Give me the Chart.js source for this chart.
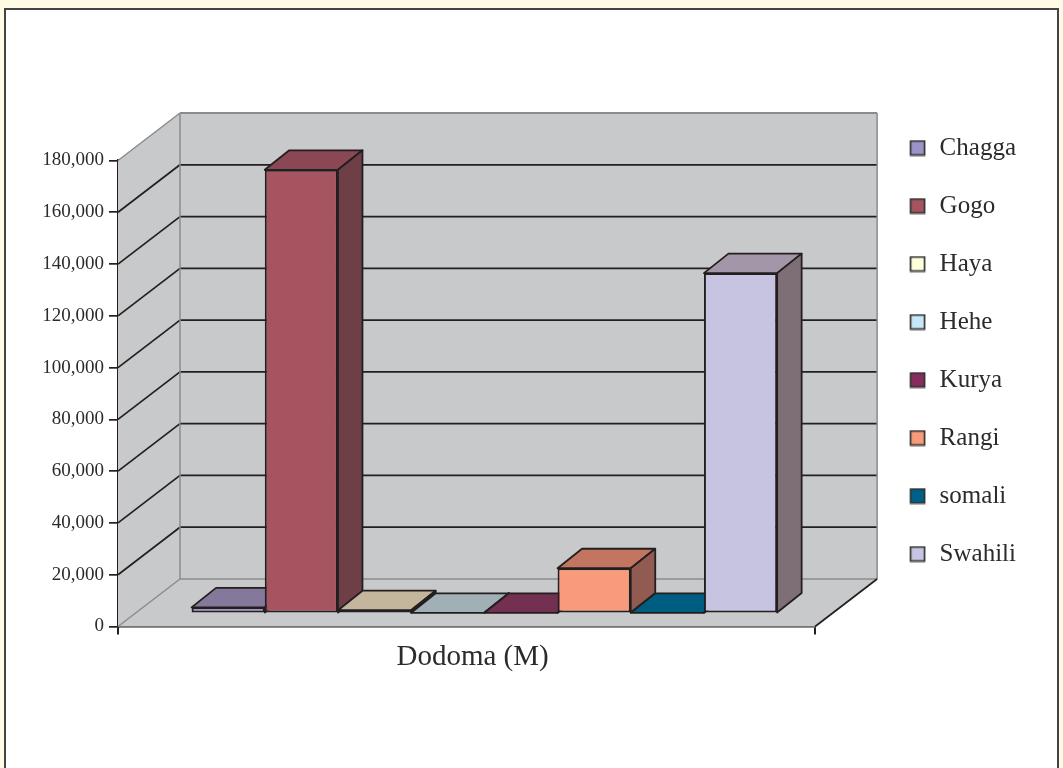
<!DOCTYPE html>
<html>
<head>
<meta charset="utf-8">
<title>Dodoma (M)</title>
<script src="https://cdn.jsdelivr.net/npm/chart.js@4"></script>
<style>
  html, body { margin: 0; padding: 0; background: #fffbe5; }
  body { width: 1063px; height: 768px; overflow: hidden; position: relative; }
  #frame { position: absolute; left: 4px; top: 8px; width: 1051px; height: 780px; background: #fff; border: 2px solid #444; }
  #chart { position: absolute; left: 0; top: 0; }
</style>
</head>
<body>
<div id="frame"></div>
<canvas id="chart" width="1063" height="768"></canvas>
<script>
const categories = ['Dodoma (M)'];
const groups = ['Chagga', 'Gogo', 'Haya', 'Hehe', 'Kurya', 'Rangi', 'somali', 'Swahili'];
const population = [2300, 171300, 1200, 150, 150, 17400, 150, 131400];
const yMax = 180000;
const yStep = 20000;

// face colours per bar
const frontColors = ['#9d93c9', '#a55460', '#ffffdb', '#c5e7f8', '#862d5e', '#f89b7b', '#006088', '#c6c4e0'];
const topColors = ['#85789a', '#8b4753', '#c4b69c', '#a0b0b5', '#733051', '#c27662', '#005d82', '#a396a9'];
const sideColors = ['#65597a', '#6f3f47', '#a89a80', '#83939a', '#5a2440', '#925b52', '#00486a', '#7e6f77'];

const LINE = '#231f20';
const WALL = '#c8c9cb';
const EDGE = '#8a8b8d';
const TEXT = '#2b2b2b';
const FONT = '"Liberation Serif", serif';

// 3d offsets: whole box depth, and where the bars stand inside it
const boxDx = 62, boxDy = -47.5;
const barShiftX = 17.8, barShiftY = -13.2;
const barDx = 24.5, barDy = -19.5;

function poly(ctx, pts, fill, stroke, lw) {
    ctx.beginPath();
    pts.forEach((p, i) => i ? ctx.lineTo(p[0], p[1]) : ctx.moveTo(p[0], p[1]));
    ctx.closePath();
    if (fill) { ctx.fillStyle = fill; ctx.fill(); }
    if (stroke) { ctx.strokeStyle = stroke; ctx.lineWidth = lw; ctx.stroke(); }
}

function line(ctx, x1, y1, x2, y2, color, lw) {
    ctx.beginPath();
    ctx.moveTo(x1, y1);
    ctx.lineTo(x2, y2);
    ctx.strokeStyle = color;
    ctx.lineWidth = lw;
    ctx.stroke();
}

const depthPlugin = {
    id: 'depth',
    beforeDatasetsDraw(chart) {
        const ctx = chart.ctx;
        const { left, right, top, bottom } = chart.chartArea;
        const backX = left + boxDx;

        // walls and floor
        poly(ctx, [[backX, top + boxDy], [right + boxDx, top + boxDy], [right + boxDx, bottom + boxDy], [backX, bottom + boxDy]], WALL);
        poly(ctx, [[left, top], [backX, top + boxDy], [backX, bottom + boxDy], [left, bottom]], WALL);
        poly(ctx, [[left, bottom], [right, bottom], [right + boxDx, bottom + boxDy], [backX, bottom + boxDy]], WALL);

        // gridlines
        chart.scales.y.ticks.forEach(t => {
            const y = chart.scales.y.getPixelForValue(t.value);
            if (t.value === 0 || t.value === yMax) return;
            line(ctx, left, y, backX, y + boxDy, LINE, 1.7);
            line(ctx, backX, y + boxDy, right + boxDx, y + boxDy, LINE, 1.7);
        });

        // grey edges of the box
        line(ctx, left, top, backX, top + boxDy, EDGE, 1.5);
        line(ctx, backX, top + boxDy, right + boxDx, top + boxDy, EDGE, 2);
        line(ctx, right + boxDx, top + boxDy, right + boxDx, bottom + boxDy, EDGE, 1.5);
        line(ctx, backX, top + boxDy, backX, bottom + boxDy, EDGE, 1.5);
        line(ctx, left, bottom, backX, bottom + boxDy, EDGE, 1.5);
        line(ctx, backX, bottom + boxDy, right + boxDx, bottom + boxDy, EDGE, 1.5);
        line(ctx, right, bottom, right + boxDx, bottom + boxDy, LINE, 1.7);

        // tops and sides of the bars, left to right
        ctx.save();
        ctx.translate(barShiftX, barShiftY);
        ctx.lineJoin = 'round';
        groups.forEach((g, i) => {
            const bar = chart.getDatasetMeta(i).data[0];
            const p = bar.getProps(['x', 'y', 'base', 'width']);
            const l = p.x - p.width / 2, r = p.x + p.width / 2;
            poly(ctx, [[l, p.y], [r, p.y], [r + barDx, p.y + barDy], [l + barDx, p.y + barDy]], topColors[i], LINE, 1.8);
            poly(ctx, [[r, p.y], [r + barDx, p.y + barDy], [r + barDx, p.base + barDy], [r, p.base]], sideColors[i], LINE, 1.8);
        });
        // fronts are drawn by the library in the same shifted space
    },
    afterDatasetsDraw(chart) {
        chart.ctx.restore();
    }
};

// legend swatch, small canvas so it sits away from the text like the reference
function swatch(color) {
    const c = document.createElement('canvas');
    c.width = 17;
    c.height = 17;
    const g = c.getContext('2d');
    g.fillStyle = color;
    g.fillRect(1.5, 1.5, 14, 14);
    g.strokeStyle = '#333';
    g.lineWidth = 1.7;
    g.strokeRect(1.5, 1.5, 14, 14);
    return c;
}

new Chart(document.getElementById('chart'), {
    type: 'bar',
    data: {
        labels: categories,
        datasets: groups.map((g, i) => ({
            label: g,
            data: [population[i]],
            backgroundColor: frontColors[i],
            borderColor: LINE,
            borderWidth: 2,
            borderSkipped: false,
            clip: false
        }))
    },
    plugins: [depthPlugin],
    options: {
        responsive: false,
        animation: false,
        layout: { padding: { top: 102.5, right: 37, bottom: 0, left: 0 } },
        datasets: { bar: { categoryPercentage: 0.84, barPercentage: 1 } },
        plugins: {
            tooltip: { enabled: false },
            legend: {
                position: 'right',
                align: 'start',
                labels: {
                    color: TEXT,
                    font: { family: FONT, size: 25 },
                    padding: 33,
                    boxHeight: 13,
                    usePointStyle: true,
                    pointStyleWidth: 19,
                    generateLabels(chart) {
                        return Chart.defaults.plugins.legend.labels.generateLabels(chart).map((item, i) => {
                            item.pointStyle = swatch(frontColors[i]);
                            return item;
                        });
                    }
                },
                onClick: null
            }
        },
        scales: {
            x: {
                offset: true,
                grid: { drawOnChartArea: false, color: LINE, tickLength: 8, lineWidth: 2, offset: true },
                border: { color: LINE, width: 2.5 },
                ticks: { color: TEXT, font: { family: FONT, size: 29 }, padding: 5, labelOffset: 6 },
                afterFit(s) { s.height = 141.5; }
            },
            y: {
                min: 0,
                max: yMax,
                ticks: { stepSize: yStep, color: TEXT, font: { family: FONT, size: 19 }, padding: 5 },
                grid: { drawOnChartArea: false, color: LINE, tickLength: 9, lineWidth: 1.7 },
                border: { color: LINE, width: 2.5 },
                afterFit(s) { s.width = 118; }
            },
            // empty axes, they only hold the room the 3d box needs
            topGap: {
                type: 'linear', axis: 'x', position: 'top',
                grid: { display: false }, border: { display: false }, ticks: { display: false },
                afterFit(s) { s.height = 58; }
            },
            rightGap: {
                type: 'linear', axis: 'y', position: 'right',
                grid: { display: false }, border: { display: false }, ticks: { display: false },
                afterFit(s) { s.width = 60; }
            }
        }
    }
});
</script>
</body>
</html>
